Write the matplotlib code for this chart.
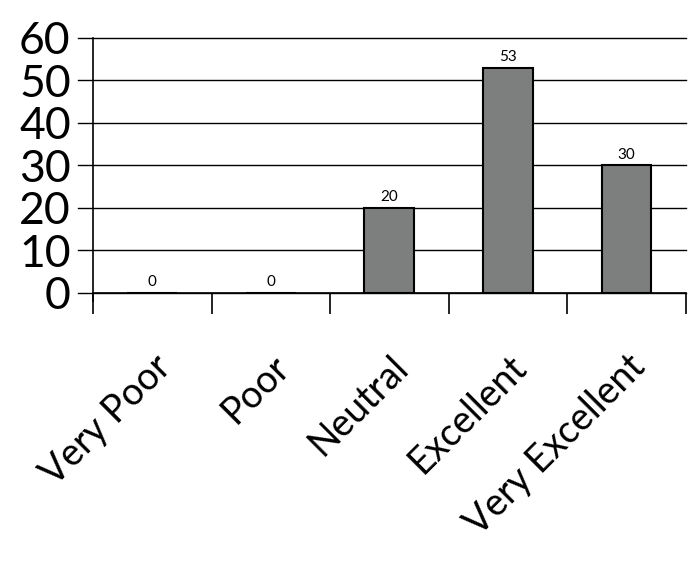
import matplotlib
matplotlib.use("Agg")
import matplotlib.pyplot as plt
import numpy as np

categories = ["Very Poor", "Poor", "Neutral", "Excellent", "Very Excellent"]
values = [0, 0, 20, 53, 30]
yticks = [0, 10, 20, 30, 40, 50, 60]

plt.rcParams['font.family'] = ['Lato', 'DejaVu Sans']

fig = plt.figure(figsize=(6.99, 5.73), dpi=100)
ax = fig.add_axes([0.133, 0.489, 0.848, 0.445])

x = np.arange(len(categories))
ax.set_axisbelow(True)
ax.bar(x, values, width=0.42, color="#7d7f7e", edgecolor="black", linewidth=1.5, zorder=3)
for xi, v in zip(x, values):
    ax.text(xi, v + 0.8, str(v), ha="center", va="bottom", fontsize=11, zorder=4)

ax.set_xlim(-0.5, len(categories) - 0.5)
ax.set_ylim(0, 60)
ax.set_yticks(yticks)
ax.set_yticklabels([str(t) for t in yticks], fontsize=32)
ax.tick_params(axis="y", length=0, pad=16)
for t in yticks:
    ax.axhline(t, color="black", linewidth=1.0, zorder=1, xmin=-0.025, clip_on=False)

ax.set_xticks(x)
ax.set_xticklabels(categories, rotation=45, ha="right", rotation_mode="anchor", fontsize=27)
ax.tick_params(axis="x", length=0, pad=40)
ax.set_xticks(np.arange(len(categories) + 1) - 0.5, minor=True)
ax.tick_params(axis="x", which="minor", length=15, width=1.2, direction="out")

for s in ["top", "right"]:
    ax.spines[s].set_visible(False)
ax.spines["left"].set_linewidth(1.2)
ax.spines["bottom"].set_linewidth(1.2)
ax.spines["left"].set_bounds(-2, 60)

fig.savefig("out.png", dpi=100)
